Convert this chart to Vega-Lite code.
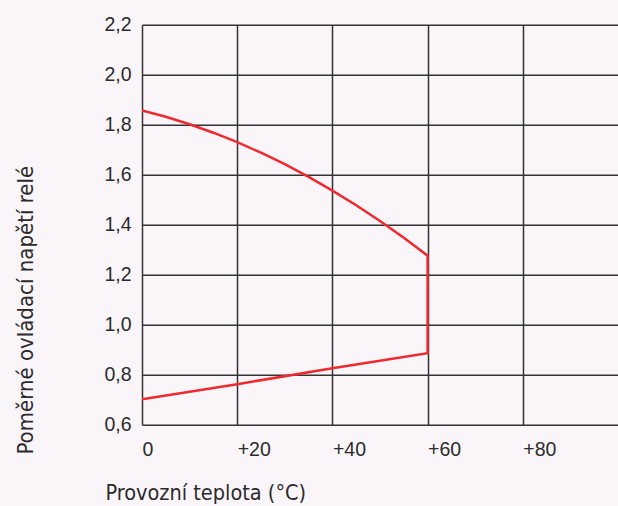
{
  "$schema": "https://vega.github.io/schema/vega-lite/v6.json",
  "width": 476,
  "height": 400,
  "autosize": "none",
  "padding": {"left": 142, "top": 24.7, "right": 0, "bottom": 81.3},
  "background": "#faf5f9",
  "config": {
    "view": {"stroke": null},
    "axis": {"labelFont": "Liberation Sans", "titleFont": "DejaVu Sans Condensed", "labelColor": "#2b2b2b", "titleColor": "#2b2b2b", "titleFontWeight": "normal"}
  },
  "data": {
    "values": [
      {"t": 0, "v": 0.702, "o": 1},
      {"t": 20, "v": 0.762, "o": 2},
      {"t": 40, "v": 0.826, "o": 3},
      {"t": 60, "v": 0.886, "o": 4},
      {"t": 60, "v": 1.276, "o": 5},
      {"t": 55, "v": 1.348, "o": 6},
      {"t": 50, "v": 1.415, "o": 7},
      {"t": 45, "v": 1.478, "o": 8},
      {"t": 40, "v": 1.536, "o": 9},
      {"t": 35, "v": 1.591, "o": 10},
      {"t": 30, "v": 1.642, "o": 11},
      {"t": 25, "v": 1.688, "o": 12},
      {"t": 20, "v": 1.73, "o": 13},
      {"t": 15, "v": 1.768, "o": 14},
      {"t": 10, "v": 1.802, "o": 15},
      {"t": 5, "v": 1.832, "o": 16},
      {"t": 0, "v": 1.857, "o": 17}
    ]
  },
  "mark": {"type": "line", "color": "#ee2a2f", "strokeWidth": 2.5, "clip": true},
  "encoding": {
    "x": {
      "field": "t", "type": "quantitative",
      "scale": {"domain": [0, 100], "nice": false, "zero": false},
      "axis": {
        "values": [0, 20, 40, 60, 80],
        "labelExpr": "datum.value == 0 ? '0' : '+' + datum.value",
        "labelAlign": "left", "labelDx": 2, "labelBaseline": "alphabetic",
        "labelPadding": 30.5, "labelFontSize": 19.5,
        "ticks": false, "tickSize": 0, "domain": false,
        "grid": true, "gridColor": "#333333", "gridWidth": 1.5, "gridOpacity": 1,
        "title": "Provozní teplota (°C)", "titleFontSize": 21.5,
        "titleX": -37, "titleY": 75, "titleAlign": "left", "titleBaseline": "alphabetic", "titleAnchor": null
      }
    },
    "y": {
      "field": "v", "type": "quantitative",
      "scale": {"domain": [0.6, 2.2], "nice": false, "zero": false},
      "axis": {
        "values": [0.6, 0.8, 1.0, 1.2, 1.4, 1.6, 1.8, 2.0, 2.2],
        "labelExpr": "replace(format(datum.value, '.1f'), '.', ',')",
        "labelFontSize": 19.5, "labelPadding": 11, "labelDy": -3,
        "ticks": false, "tickSize": 0, "domain": false,
        "grid": true, "gridColor": "#333333", "gridWidth": 1.5, "gridOpacity": 1,
        "title": "Poměrné ovládací napětí relé", "titleFontSize": 22,
        "titleX": -110, "titleY": 285, "titleAngle": -90, "titleAlign": "center", "titleBaseline": "alphabetic", "titleAnchor": null
      }
    },
    "order": {"field": "o", "type": "quantitative"}
  }
}
